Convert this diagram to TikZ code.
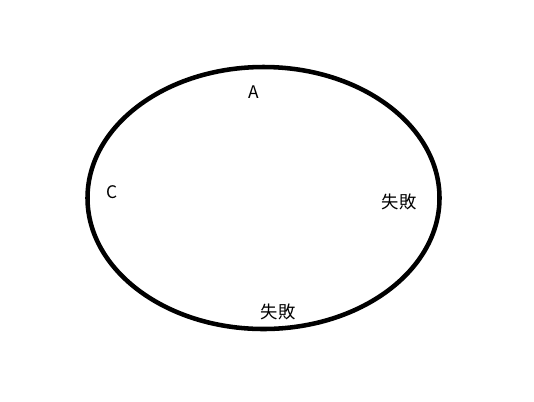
\documentclass[tikz,border=0pt]{standalone}
\usepackage{fontspec}
\setmainfont{Noto Sans CJK JP}
\begin{document}
\begin{tikzpicture}[x=0.75pt,y=-0.75pt,
		lbl/.style={inner sep=0pt, font=\fontsize{13}{15}\selectfont}]
		\useasboundingbox (0,0) rectangle (534,401);
		\coordinate (o) at (263.5,198);
		\draw[line width=3.4pt] (o) ellipse [x radius=176, y radius=131];
		\node[lbl] (A) at (254,92) {A};
		\node[lbl] (C) at (112,192) {C};
		\node[lbl] (f1) at (399,202) {失敗};
		\node[lbl] (f2) at (278,312) {失敗};
	\end{tikzpicture}
\end{document}
